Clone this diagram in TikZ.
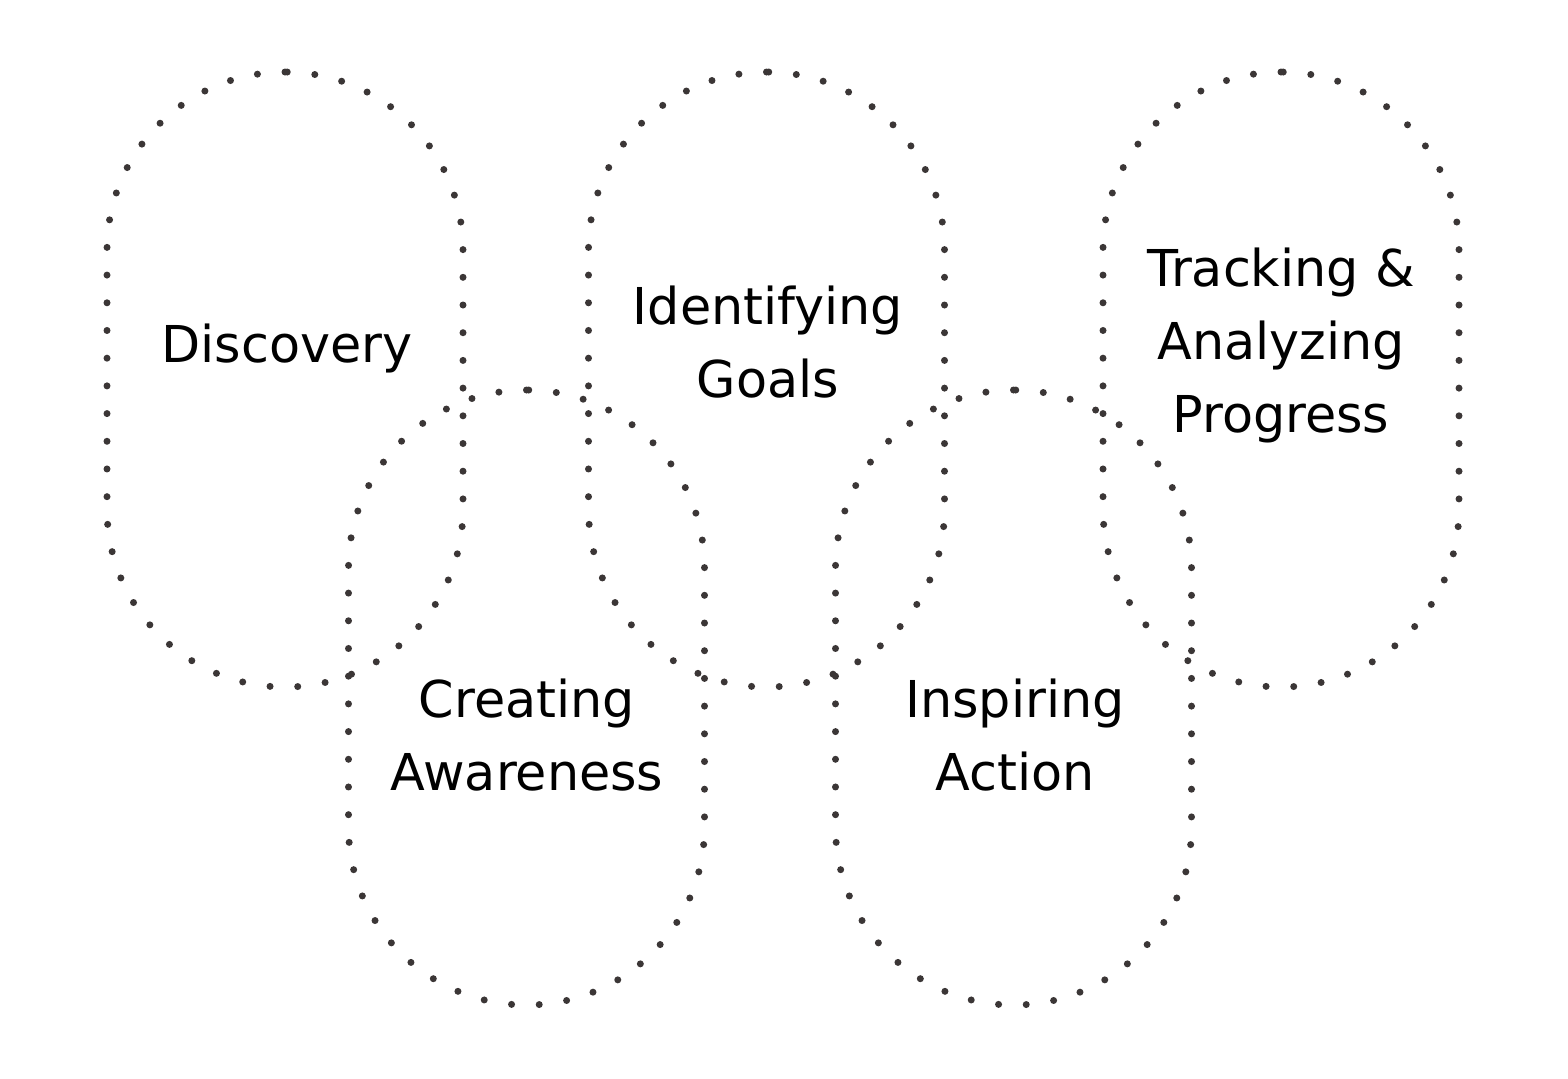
\documentclass[tikz,border=0pt]{standalone}
\usepackage{fontspec}
\setmainfont[Ligatures={NoCommon}]{DejaVu Sans}
\usepackage{xcolor}
\definecolor{dotgray}{HTML}{3B3636}

\begin{document}
\begin{tikzpicture}[x=0.5pt,y=-0.5pt,
      pill/.style={draw=dotgray,line width=3.5pt,line cap=round,
        dash pattern=on 0pt off 13.85pt,rounded corners=89pt,
        minimum width=178pt,minimum height=307.5pt,inner sep=0pt},
      stage/.style={font=\fontsize{25.4}{36.5}\selectfont,align=center,anchor=base,inner sep=0pt}]
      \useasboundingbox (0,0) rectangle (1568,1078);

      % the five dotted stadiums
      \node[pill] (disc) at (285,379.5) {};
      \node[pill] (goals) at (766.5,379.5) {};
      \node[pill] (track) at (1281,379.5) {};
      \node[pill] (aware) at (526.5,697.5) {};
      \node[pill] (action) at (1013.5,697.5) {};

      % labels
      \node[stage] (discT) at (287,362) {Discovery};
      \node[stage] (goalsT) at (768,397) {Identifying\\Goals};
      \node[stage] (trackT) at (1281,432) {Tracking \&\\Analyzing\\Progress};
      \node[stage] (awareT) at (527,790) {Creating\\Awareness};
      \node[stage] (actionT) at (1015,790) {Inspiring\\Action};
    \end{tikzpicture}
\end{document}
